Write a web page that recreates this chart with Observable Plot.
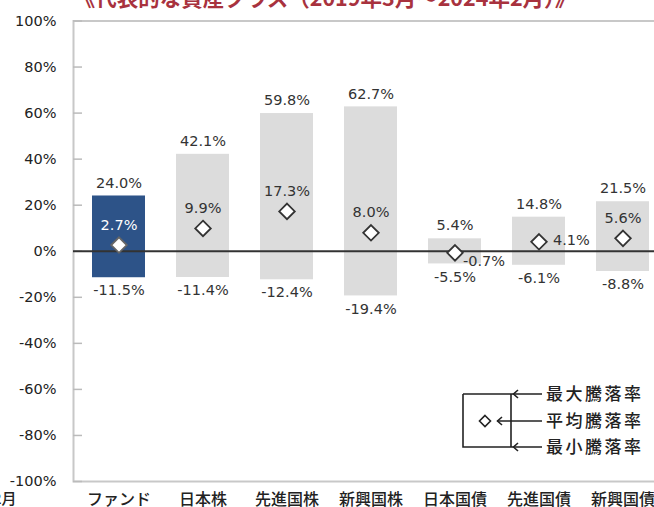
<!DOCTYPE html>
<html><head><meta charset="utf-8">
<script src="https://cdn.jsdelivr.net/npm/d3@7"></script>
<script src="https://cdn.jsdelivr.net/npm/@observablehq/plot@0.6"></script>
<style>
html,body{margin:0;padding:0;background:#fff;overflow:hidden;}
#wrap{position:relative;width:654px;height:507px;overflow:hidden;}
#wrap svg{max-width:none !important;}
#legend{position:absolute;left:0;top:0;pointer-events:none;}
</style></head><body><div id="wrap"></div>
<script>
const categories = ["ファンド", "日本株", "先進国株", "新興国株", "日本国債", "先進国債", "新興国債"];
const maxValues = [24.0, 42.1, 59.8, 62.7, 5.4, 14.8, 21.5];
const avgValues = [2.7, 9.9, 17.3, 8.0, -0.7, 4.1, 5.6];
const minValues = [-11.5, -11.4, -12.4, -19.4, -5.5, -6.1, -8.8];
const yTicks = [-100, -80, -60, -40, -20, 0, 20, 40, 60, 80, 100];
const titleText = "《代表的な資産クラス（2019年3月～2024年2月）》";
const periodText = "2024年2月";
const legendLabels = ["最大騰落率", "平均騰落率", "最小騰落率"];

const rows = categories.map((c, i) => ({cat: c, max: maxValues[i], avg: avgValues[i], min: minValues[i]}));
const fmt = v => v.toFixed(1) + "%";
const isFund = d => d.cat === categories[0];
const sideRight = ["日本国債", "先進国債"];

const numFont = "DejaVu Sans";
const jpFont = "'Noto Sans CJK JP'";

const chart = Plot.plot({
  width: 660, height: 507,
  marginLeft: 73, marginRight: 0, marginTop: 20.5, marginBottom: 26,
  style: {fontFamily: numFont, background: "#fff"},
  x: {domain: categories, paddingInner: 0.374, paddingOuter: 0.152, align: 0.64, label: null},
  y: {domain: [-100, 100], label: null},
  marks: [
    Plot.frame({stroke: "#c8c8c8", strokeWidth: 2}),
    Plot.axisY(yTicks, {tickSize: 0, tickPadding: 17, tickFormat: d => d + "%", fontSize: 14.5, fill: "#222", label: null}),
    Plot.axisY(yTicks, {tickSize: -9, tickFormat: () => "", stroke: "#bbb", strokeWidth: 1.5, label: null}),
    Plot.axisX({tickSize: 0, tickPadding: 12, fontSize: 16, fontFamily: jpFont, fontWeight: 500, fill: "#222", label: null}),
    Plot.barY(rows, {x: "cat", y1: "min", y2: "max", fill: d => isFund(d) ? "#2d5388" : "#dcdcdc"}),
    Plot.ruleY([0], {stroke: "#333", strokeWidth: 2}),
    Plot.dot(rows, {x: "cat", y: "avg", symbol: "diamond2", r: 7, fill: "#fff",
      stroke: d => isFund(d) ? "#666" : "#333", strokeWidth: 1.8}),
    Plot.text(rows, {x: "cat", y: "max", text: d => fmt(d.max), dy: -13, fontSize: 14.5, fill: "#333"}),
    Plot.text(rows, {x: "cat", y: "min", text: d => fmt(d.min), dy: 13, fontSize: 14.5, fill: "#333"}),
    Plot.text(rows.filter(d => !sideRight.includes(d.cat)), {x: "cat", y: "avg", text: d => fmt(d.avg), dy: -20,
      fontSize: 14.5, fill: d => isFund(d) ? "#fff" : "#333"}),
    Plot.text(rows.filter(d => d.cat === sideRight[0]), {x: "cat", y: "avg", text: d => fmt(d.avg), dx: 8, dy: 8,
      textAnchor: "start", fontSize: 14.5, fill: "#333"}),
    Plot.text(rows.filter(d => d.cat === sideRight[1]), {x: "cat", y: "avg", text: d => fmt(d.avg), dx: 14, dy: -1,
      textAnchor: "start", fontSize: 14.5, fill: "#333"}),
    Plot.text([titleText], {text: d => d, frameAnchor: "top", dx: -42, dy: -15, lineAnchor: "bottom",
      fontSize: 21.5, fontWeight: "bold", fontFamily: jpFont, fill: "#a8323e"}),
    Plot.text([periodText], {text: d => d, frameAnchor: "bottom-left", dx: -57, dy: 12, textAnchor: "end",
      lineAnchor: "top", fontSize: 15, fontFamily: jpFont, fontWeight: 500, fill: "#222"})
  ]
});
const wrap = document.getElementById("wrap");
wrap.appendChild(chart);

// legend illustration
const ns = "http://www.w3.org/2000/svg";
const lg = document.createElementNS(ns, "svg");
lg.setAttribute("id", "legend");
lg.setAttribute("width", 654);
lg.setAttribute("height", 507);
const L = 463, R = 511, T = 394, B = 447, M = 421, E = 542;
const paths = [
  `M${L},${T}H${E}M${L},${T}V${B}H${E}M${R},${T}V${B}`,
  `M497,${M}H${E}`,
  `M518,${T - 4}L513.5,${T}L518,${T + 4}`,
  `M518,${B - 4}L513.5,${B}L518,${B + 4}`,
  `M502,${M - 4}L497.5,${M}L502,${M + 4}`
];
paths.forEach(d => {
  const p = document.createElementNS(ns, "path");
  p.setAttribute("d", d);
  p.setAttribute("fill", "none");
  p.setAttribute("stroke", "#222");
  p.setAttribute("stroke-width", 1.6);
  lg.appendChild(p);
});
const dia = document.createElementNS(ns, "path");
dia.setAttribute("d", `M485,${M - 5.5}L490.5,${M}L485,${M + 5.5}L479.5,${M}Z`);
dia.setAttribute("fill", "#fff");
dia.setAttribute("stroke", "#222");
dia.setAttribute("stroke-width", 1.6);
lg.appendChild(dia);
[T, M, B].forEach((y, i) => {
  const t = document.createElementNS(ns, "text");
  t.setAttribute("x", 546);
  t.setAttribute("y", y);
  t.setAttribute("dy", "0.36em");
  t.setAttribute("font-family", "Noto Sans CJK JP");
  t.setAttribute("font-size", 17);
  t.setAttribute("font-weight", 500);
  t.setAttribute("letter-spacing", 2.5);
  t.setAttribute("fill", "#222");
  t.textContent = legendLabels[i];
  lg.appendChild(t);
});
wrap.appendChild(lg);
</script></body></html>
